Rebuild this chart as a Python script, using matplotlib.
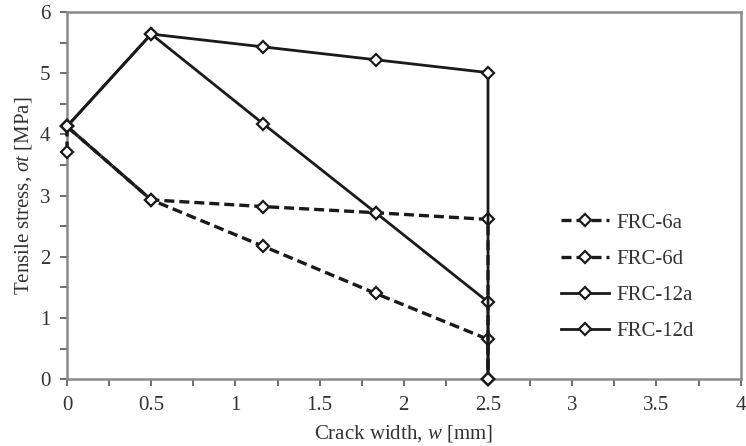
import matplotlib
matplotlib.use("Agg")
import matplotlib.pyplot as plt
from matplotlib.ticker import MultipleLocator

plt.rcParams['font.family'] = ['Liberation Serif', 'DejaVu Serif']
plt.rcParams['mathtext.fontset'] = 'custom'
plt.rcParams['mathtext.rm'] = 'Liberation Serif'
plt.rcParams['mathtext.it'] = 'Liberation Serif:italic'

labels = ["FRC-6a", "FRC-6d", "FRC-12a", "FRC-12d"]
x_6a = [0, 0.5, 1.1667, 1.8333, 2.5, 2.5]
y_6a = [4.13, 2.93, 2.17, 1.40, 0.65, 0.0]
x_6d = [0, 0, 0.5, 1.1667, 1.8333, 2.5, 2.5]
y_6d = [3.72, 4.13, 2.93, 2.82, 2.72, 2.61, 0.0]
x_12a = [0, 0.5, 1.1667, 1.8333, 2.5, 2.5]
y_12a = [4.13, 5.64, 4.17, 2.72, 1.26, 0.0]
x_12d = [0, 0.5, 1.1667, 1.8333, 2.5, 2.5]
y_12d = [4.13, 5.64, 5.43, 5.22, 5.01, 0.0]

fig = plt.figure(figsize=(7.46, 4.46), dpi=100)
ax = fig.add_axes([0.0898, 0.150, 0.903, 0.823])

col = '#1a1a1a'
common = dict(color=col, marker='D', markersize=6.3, markerfacecolor='white',
              markeredgecolor=col, markeredgewidth=1.6, clip_on=False, zorder=3)
ax.plot(x_6a, y_6a, linestyle=(0, (3, 1.5)), linewidth=2.4, label=labels[0], **common)
ax.plot(x_6d, y_6d, linestyle=(0, (3, 1.5)), linewidth=2.4, label=labels[1], **common)
ax.plot(x_12a, y_12a, linestyle='-', linewidth=2.0, label=labels[2], **common)
ax.plot(x_12d, y_12d, linestyle='-', linewidth=2.0, label=labels[3], **common)

ax.set_xlim(0, 4)
ax.set_ylim(0, 6)
ax.xaxis.set_major_locator(MultipleLocator(0.5))
ax.xaxis.set_minor_locator(MultipleLocator(0.25))
ax.yaxis.set_major_locator(MultipleLocator(1))
ax.yaxis.set_minor_locator(MultipleLocator(0.5))
ax.set_xticks([0, 0.5, 1, 1.5, 2, 2.5, 3, 3.5, 4])
ax.set_xticklabels(['0', '0.5', '1', '1.5', '2', '2.5', '3', '3.5', '4'])

for s in ax.spines.values():
    s.set_color('#8a8a8a')
    s.set_linewidth(1.8)
ax.tick_params(which='both', direction='out', color='#555555', labelsize=15,
               labelcolor='#333333', width=1.2)
ax.tick_params(which='major', length=5, pad=7)
ax.tick_params(which='minor', length=5)

ax.set_xlabel('Crack width, $\\it{w}$ [mm]', fontsize=15, color='#333333', labelpad=6)
ax.set_ylabel('Tensile stress, $\\it{\\sigma t}$ [MPa]', fontsize=15, color='#333333', labelpad=4)

leg = ax.legend(loc='upper left', bbox_to_anchor=(0.733, 0.452), frameon=False,
                fontsize=15, handlelength=2.3, labelspacing=0.79, handletextpad=0.35,
                borderaxespad=0, borderpad=0)
for t in leg.get_texts():
    t.set_color('#333333')

fig.savefig('out.png', dpi=100)
